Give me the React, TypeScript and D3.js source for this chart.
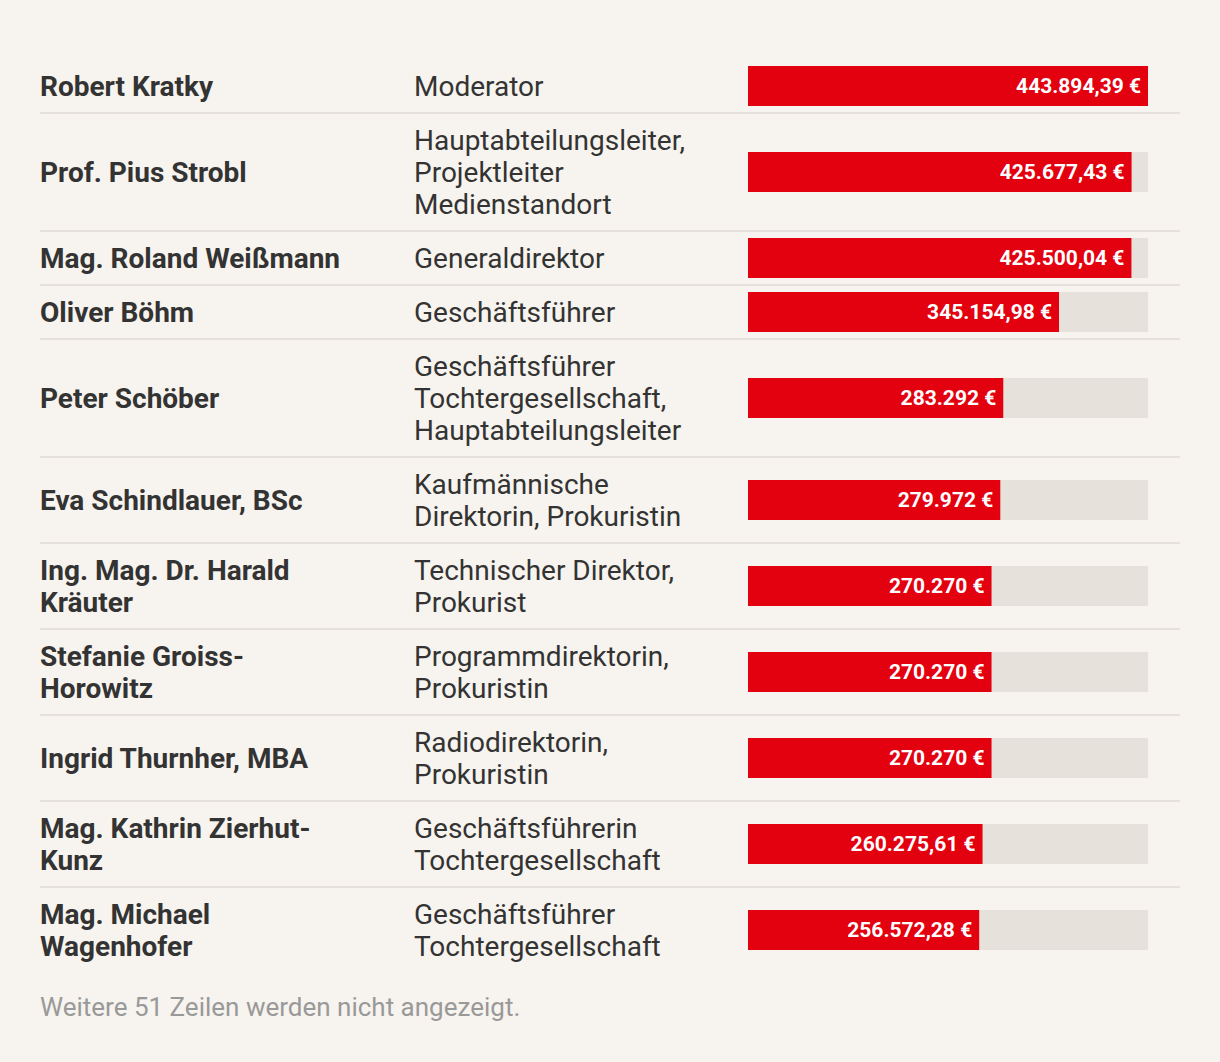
import React from "react";
import * as d3 from "d3";

const names: string[] = [
  "Robert Kratky",
  "Prof. Pius Strobl",
  "Mag. Roland Weißmann",
  "Oliver Böhm",
  "Peter Schöber",
  "Eva Schindlauer, BSc",
  "Ing. Mag. Dr. Harald\nKräuter",
  "Stefanie Groiss-\nHorowitz",
  "Ingrid Thurnher, MBA",
  "Mag. Kathrin Zierhut-\nKunz",
  "Mag. Michael\nWagenhofer",
];

const roles: string[] = [
  "Moderator",
  "Hauptabteilungsleiter,\nProjektleiter\nMedienstandort",
  "Generaldirektor",
  "Geschäftsführer",
  "Geschäftsführer\nTochtergesellschaft,\nHauptabteilungsleiter",
  "Kaufmännische\nDirektorin, Prokuristin",
  "Technischer Direktor,\nProkurist",
  "Programmdirektorin,\nProkuristin",
  "Radiodirektorin,\nProkuristin",
  "Geschäftsführerin\nTochtergesellschaft",
  "Geschäftsführer\nTochtergesellschaft",
];

const salaries: number[] = [
  443894.39, 425677.43, 425500.04, 345154.98, 283292, 279972, 270270, 270270,
  270270, 260275.61, 256572.28,
];

const valueLabels: string[] = [
  "443.894,39 €",
  "425.677,43 €",
  "425.500,04 €",
  "345.154,98 €",
  "283.292 €",
  "279.972 €",
  "270.270 €",
  "270.270 €",
  "270.270 €",
  "260.275,61 €",
  "256.572,28 €",
];

const footerText = "Weitere 51 Zeilen werden nicht angezeigt.";

const W = 1220;
const H = 1062;
const LEFT = 40;
const RIGHT = 1180;
const ROLE_X = 414;
const BAR_X = 748;
const BAR_W = 400;
const BAR_H = 40;
const LINE_H = 32;
const PAD = 11;
const TOP = 59;
const FONT = "Roboto, 'Noto Sans', sans-serif";

export default function App() {
  React.useEffect(() => {
    document.body.style.margin = "0";
    document.body.style.background = "#f7f3ee";
  }, []);

  const x = d3.scaleLinear().domain([0, d3.max(salaries) as number]).range([0, BAR_W]);

  const rows = names.map((n, i) => {
    const nl = n.split("\n");
    const rl = roles[i].split("\n");
    const lines = Math.max(nl.length, rl.length);
    return { nl, rl, h: lines * LINE_H + 2 * PAD };
  });
  const tops: number[] = [];
  let acc = TOP;
  rows.forEach((r) => {
    tops.push(acc);
    acc += r.h;
  });

  const textBlock = (lines: string[], cx: number, cy: number, weight: number, color: string) => {
    const start = cy - ((lines.length - 1) * LINE_H) / 2;
    return (
      <text x={cx} fontFamily={FONT} fontSize={28} fontWeight={weight} fill={color}>
        {lines.map((l, j) => (
          <tspan key={j} x={cx} y={start + j * LINE_H} dy="0.35em">
            {l}
          </tspan>
        ))}
      </text>
    );
  };

  return (
    <svg width={W} height={H} style={{ display: "block", background: "#f7f3ee" }}>
      <rect x={0} y={0} width={W} height={H} fill="#f7f3ee" />
      {rows.map((r, i) => {
        const top = tops[i];
        const cy = top + r.h / 2;
        return (
          <g key={i}>
            {textBlock(r.nl, LEFT, cy, 700, "#333333")}
            {textBlock(r.rl, ROLE_X, cy, 400, "#333333")}
            <rect x={BAR_X} y={cy - BAR_H / 2} width={BAR_W} height={BAR_H} fill="#e6e1db" />
            <rect x={BAR_X} y={cy - BAR_H / 2} width={x(salaries[i])} height={BAR_H} fill="#e3000f" />
            <text
              x={BAR_X + x(salaries[i]) - 7}
              y={cy}
              dy="0.35em"
              textAnchor="end"
              fontFamily={FONT}
              fontSize={21}
              fontWeight={700}
              fill="#ffffff"
            >
              {valueLabels[i]}
            </text>
            {i < rows.length - 1 && (
              <line x1={LEFT} x2={RIGHT} y1={top + r.h} y2={top + r.h} stroke="#e6e1db" strokeWidth={2} />
            )}
          </g>
        );
      })}
      <text x={LEFT} y={acc + 34} dy="0.35em" fontFamily={FONT} fontSize={26} fill="#999999">
        {footerText}
      </text>
    </svg>
  );
}
